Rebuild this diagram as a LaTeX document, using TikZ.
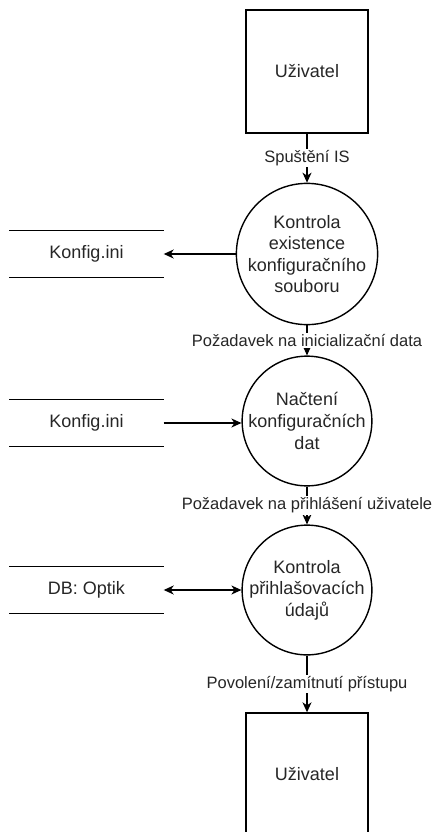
\documentclass[tikz,border=0pt]{standalone}
\usepackage{fontspec}
\setmainfont{Liberation Sans}
\usetikzlibrary{arrows.meta}
\begin{document}
\begin{tikzpicture}[x=1pt,y=-1pt,
  line width=1.4pt,
  >={Stealth[length=10pt,width=9pt,inset=3pt]},
  txt/.style={font=\fontsize{18}{21.6}\selectfont, text=black!85},
  ltxt/.style={font=\fontsize{16.5}{20}\selectfont, text=black!85},
  entity/.style={draw, rectangle, minimum width=122pt, minimum height=123pt, inner sep=0pt, txt},
  process/.style={draw, circle, minimum size=122pt, inner sep=0pt, align=center, txt},
  store/.style={rectangle, minimum width=153pt, minimum height=46pt, inner sep=0pt, txt},
  flow/.style={->},
  biflow/.style={<->},
  lbl/.style={midway, fill=white, inner sep=1.5pt, ltxt}
]
\useasboundingbox (0,0) rectangle (435,832);
\fill[white] (0,0) rectangle (435,832);

\node[entity] (u1) at (307,71.5) {Uživatel};
\node[process] (p1) at (307,254) {Kontrola\\existence\\konfiguračního\\souboru};
\node[process] (p2) at (307,421) {Načtení\\konfiguračních\\dat};
\node[process] (p3) at (307,590) {Kontrola\\přihlašovacích\\údajů};
\node[entity] (u2) at (307,774.5) {Uživatel};

\node[store] (s1) at (86.5,254) {Konfig.ini};
\node[store] (s2) at (86.5,423) {Konfig.ini};
\node[store] (s3) at (86.5,590) {DB: Optik};

\foreach \s in {s1,s2,s3}{
  \draw (\s.north west) -- (\s.north east);
  \draw (\s.south west) -- (\s.south east);
}

\draw[flow] (u1) -- (p1) node[lbl] {Spuštění IS};
\draw[flow] (p1) -- (p2) node[lbl] {Požadavek na inicializační data};
\draw[flow] (p2) -- (p3) node[lbl] {Požadavek na přihlášení uživatele};
\draw[flow] (p3) -- (u2) node[lbl] {Povolení/zamítnutí přístupu};

\draw[flow] (p1.west) -- (s1.east |- p1.west);
\draw[flow] (s2.east) -- (p2.west |- s2.east);
\draw[biflow] (s3.east) -- (p3.west |- s3.east);
\end{tikzpicture}
\end{document}
